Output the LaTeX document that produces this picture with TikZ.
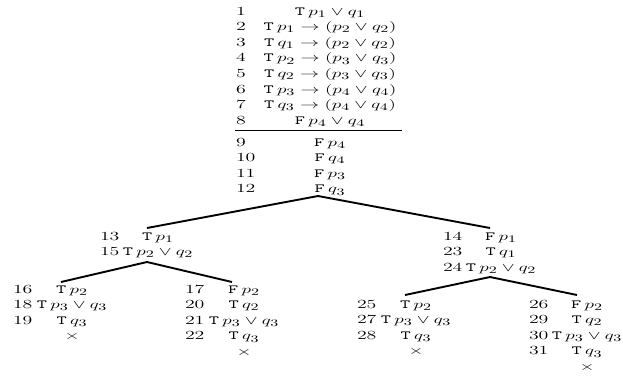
\documentclass[tikz,border=0pt]{standalone}
\usepackage{graphicx}
\DeclareMathSizes{12.4}{12.4}{10}{8}
\newcommand{\hs}[1]{\scalebox{1.6}[1]{#1}}
\newcommand{\tvT}{\texttt{T}\,}
\newcommand{\tvF}{\texttt{F}\,}
\begin{document}
\begin{tikzpicture}[x=1pt,y=-1pt,
 every node/.style={inner sep=0pt,outer sep=0pt,font=\fontsize{12.4}{15.6}\selectfont},
 num/.style={anchor=base west},
 fml/.style={anchor=base},
 branch/.style={line width=1.9pt},
 rulel/.style={line width=1pt}]
\useasboundingbox (0,0) rectangle (623,376);
% top column
\node[num] (n1) at (236,15) {\hs{1}};
\node[fml] (f1) at (330,15) {\hs{\tvT$p_1\vee q_1$}};
\node[num] (n2) at (236,30.6) {\hs{2}};
\node[fml] (f2) at (330,30.6) {\hs{\tvT$p_1\to(p_2\vee q_2)$}};
\node[num] (n3) at (236,46.2) {\hs{3}};
\node[fml] (f3) at (330,46.2) {\hs{\tvT$q_1\to(p_2\vee q_2)$}};
\node[num] (n4) at (236,61.8) {\hs{4}};
\node[fml] (f4) at (330,61.8) {\hs{\tvT$p_2\to(p_3\vee q_3)$}};
\node[num] (n5) at (236,77.4) {\hs{5}};
\node[fml] (f5) at (330,77.4) {\hs{\tvT$q_2\to(p_3\vee q_3)$}};
\node[num] (n6) at (236,93) {\hs{6}};
\node[fml] (f6) at (330,93) {\hs{\tvT$p_3\to(p_4\vee q_4)$}};
\node[num] (n7) at (236,108.6) {\hs{7}};
\node[fml] (f7) at (330,108.6) {\hs{\tvT$q_3\to(p_4\vee q_4)$}};
\node[num] (n8) at (236,124.2) {\hs{8}};
\node[fml] (f8) at (330,124.2) {\hs{\tvF$p_4\vee q_4$}};
\coordinate (rl) at (235,130.5);
\coordinate (rr) at (402,130.5);
\draw[rulel] (rl) -- (rr);
\node[num] (n9) at (236,146) {\hs{9}};
\node[fml] (f9) at (330,146) {\hs{\tvF$p_4$}};
\node[num] (n10) at (236,161.6) {\hs{10}};
\node[fml] (f10) at (330,161.6) {\hs{\tvF$q_4$}};
\node[num] (n11) at (236,177.2) {\hs{11}};
\node[fml] (f11) at (330,177.2) {\hs{\tvF$p_3$}};
\node[num] (n12) at (236,192.8) {\hs{12}};
\node[fml] (f12) at (330,192.8) {\hs{\tvF$q_3$}};
\coordinate (a0) at (318,196);
\coordinate (a0l) at (147,228);
\coordinate (a0r) at (490,228);
\draw[branch] (a0l) -- (a0) -- (a0r);
% left subtree
\node[num] (n13) at (100,240) {\hs{13}};
\node[fml] (f13) at (158,240) {\hs{\tvT$p_1$}};
\node[num] (n15) at (100,255.6) {\hs{15}};
\node[fml] (f15) at (158,255.6) {\hs{\tvT$p_2\vee q_2$}};
\coordinate (a1) at (147,262);
\coordinate (a1l) at (61,282);
\coordinate (a1r) at (232,282);
\draw[branch] (a1l) -- (a1) -- (a1r);
% left-left
\node[num] (n16) at (13,293) {\hs{16}};
\node[fml] (f16) at (72,293) {\hs{\tvT$p_2$}};
\node[num] (n18) at (13,308.6) {\hs{18}};
\node[fml] (f18) at (72,308.6) {\hs{\tvT$p_3\vee q_3$}};
\node[num] (n19) at (13,324.2) {\hs{19}};
\node[fml] (f19) at (72,324.2) {\hs{\tvT$q_3$}};
\node[fml] (x1) at (72,339.8) {\hs{$\times$}};
% left-right
\node[num] (n17) at (185,293) {\hs{17}};
\node[fml] (f17) at (244,293) {\hs{\tvF$p_2$}};
\node[num] (n20) at (185,308.6) {\hs{20}};
\node[fml] (f20) at (244,308.6) {\hs{\tvT$q_2$}};
\node[num] (n21) at (185,324.2) {\hs{21}};
\node[fml] (f21) at (244,324.2) {\hs{\tvT$p_3\vee q_3$}};
\node[num] (n22) at (185,339.8) {\hs{22}};
\node[fml] (f22) at (244,339.8) {\hs{\tvT$q_3$}};
\node[fml] (x2) at (244,355.4) {\hs{$\times$}};
% right subtree
\node[num] (n14) at (443,240) {\hs{14}};
\node[fml] (f14) at (501,240) {\hs{\tvF$p_1$}};
\node[num] (n23) at (443,255.6) {\hs{23}};
\node[fml] (f23) at (501,255.6) {\hs{\tvT$q_1$}};
\node[num] (n24) at (443,271.2) {\hs{24}};
\node[fml] (f24) at (501,271.2) {\hs{\tvT$p_2\vee q_2$}};
\coordinate (a2) at (490,277);
\coordinate (a2l) at (405,295);
\coordinate (a2r) at (577,295);
\draw[branch] (a2l) -- (a2) -- (a2r);
% right-left
\node[num] (n25) at (357,308) {\hs{25}};
\node[fml] (f25) at (416,308) {\hs{\tvT$p_2$}};
\node[num] (n27) at (357,323.6) {\hs{27}};
\node[fml] (f27) at (416,323.6) {\hs{\tvT$p_3\vee q_3$}};
\node[num] (n28) at (357,339.2) {\hs{28}};
\node[fml] (f28) at (416,339.2) {\hs{\tvT$q_3$}};
\node[fml] (x3) at (416,354.8) {\hs{$\times$}};
% right-right
\node[num] (n26) at (529,308) {\hs{26}};
\node[fml] (f26) at (587,308) {\hs{\tvF$p_2$}};
\node[num] (n29) at (529,323.6) {\hs{29}};
\node[fml] (f29) at (587,323.6) {\hs{\tvT$q_2$}};
\node[num] (n30) at (529,339.2) {\hs{30}};
\node[fml] (f30) at (587,339.2) {\hs{\tvT$p_3\vee q_3$}};
\node[num] (n31) at (529,354.8) {\hs{31}};
\node[fml] (f31) at (587,354.8) {\hs{\tvT$q_3$}};
\node[fml] (x4) at (587,370.4) {\hs{$\times$}};
\end{tikzpicture}
\end{document}
